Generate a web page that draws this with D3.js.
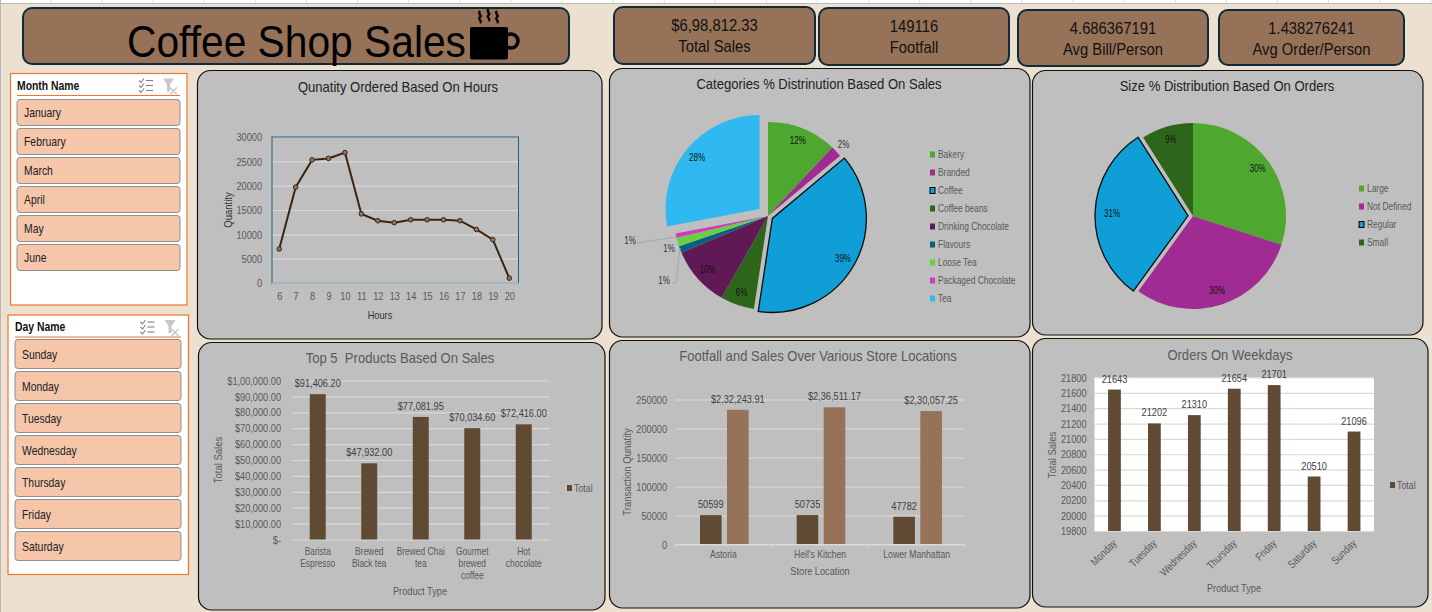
<!DOCTYPE html>
<html>
<head>
<meta charset="utf-8">
<script src="https://cdn.jsdelivr.net/npm/d3@7"></script>
<style>
  html, body { margin: 0; padding: 0; background: #ece1d1; }
  svg { display: block; font-family: "Liberation Sans", sans-serif; }
  .axis path, .axis line { fill: none; }
  .axis text { fill: #595959; }
</style>
</head>
<body>
<svg id="board" width="1432" height="612"></svg>
<script>
// data
var months = ["January", "February", "March", "April", "May", "June"];
var days = ["Sunday", "Monday", "Tuesday", "Wednesday", "Thursday", "Friday", "Saturday"];

var kpiValues = ["$6,98,812.33", "149116", "4.686367191", "1.438276241"];
var kpiNames = ["Total Sales", "Footfall", "Avg Bill/Person", "Avg Order/Person"];

var hours = [6, 7, 8, 9, 10, 11, 12, 13, 14, 15, 16, 17, 18, 19, 20];
var hourQty = [7000, 19700, 25300, 25600, 26800, 14200, 12800, 12400, 13000, 13000, 13000, 12800, 11000, 8900, 1000];

var categories = ["Bakery", "Branded", "Coffee", "Coffee beans", "Drinking Chocolate", "Flavours", "Loose Tea", "Packaged Chocolate", "Tea"];
var categoryShare = [12, 1.9, 38.5, 5.8, 10.4, 1.2, 1.5, 0.7, 28];
var categoryLabels = ["12%", "2%", "39%", "6%", "10%", "1%", "1%", "1%", "28%"];

var sizes = ["Large", "Not Defined", "Regular", "Small"];
var sizeShare = [30, 30, 31, 9];
var sizeLabels = ["30%", "30%", "31%", "9%"];

var products = ["Barista Espresso", "Brewed Black tea", "Brewed Chai tea", "Gourmet brewed coffee", "Hot chocolate"];
var productLines = [["Barista", "Espresso"], ["Brewed", "Black tea"], ["Brewed Chai", "tea"], ["Gourmet", "brewed", "coffee"], ["Hot", "chocolate"]];
var productSales = [91406.20, 47932.00, 77081.95, 70034.60, 72416.00];

var stores = ["Astoria", "Hell's Kitchen", "Lower Manhattan"];
var storeFootfall = [50599, 50735, 47782];
var storeSales = [232243.91, 236511.17, 230057.25];

var weekdays = ["Monday", "Tuesday", "Wednesday", "Thursday", "Friday", "Saturday", "Sunday"];
var weekdayOrders = [21643, 21202, 21310, 21654, 21701, 20510, 21096];

var tan = "#967259", darkBrown = "#604a33", navy = "#0e2a3b", panelGrey = "#bfbfbf", gridGrey = "#d9d9d9";
var orange = "#ee7430", peach = "#f5c6aa", textGrey = "#595959";
var categoryColors = ["#4ea72e", "#a02b93", "#0f9ed5", "#2d651b", "#5f1a56", "#0b5f83", "#6bcf45", "#d338c0", "#2fb9f0"];
var sizeColors = ["#4ea72e", "#a02b93", "#0f9ed5", "#2d651b"];

var svg = d3.select("#board");
var fmtDollar = function(v) {
  // indian style grouping, that is how the sheet shows it
  var parts = v.toFixed(2).split(".");
  var s = parts[0];
  if (s.length > 5) s = s.slice(0, s.length - 5) + "," + s.slice(s.length - 5, s.length - 3) + "," + s.slice(s.length - 3);
  else if (s.length > 3) s = s.slice(0, s.length - 3) + "," + s.slice(s.length - 3);
  return "$" + s + "." + parts[1];
};

function label(g, x, y, txt, size, color, anchor) {
  return g.append("text").attr("x", x).attr("y", y)
    .attr("font-size", size).attr("fill", color || "#000")
    .attr("text-anchor", anchor || "middle").text(txt);
}

function box(x0, y0, x1, y1, fill, stroke, sw, r) {
  return svg.append("rect").attr("x", x0).attr("y", y0)
    .attr("width", x1 - x0).attr("height", y1 - y0).attr("rx", r)
    .attr("fill", fill).attr("stroke", stroke).attr("stroke-width", sw);
}

function panelTitle(x, y, txt, color) {
  return label(svg, x, y, txt, 15, color).attr("data-squeeze", .87).style("white-space", "pre");
}

// sheet grid strip at the top
svg.append("rect").attr("width", 1432).attr("height", 3.5).attr("fill", "#fff");
svg.append("line").attr("x1", 0).attr("x2", 1432).attr("y1", 3.5).attr("y2", 3.5).attr("stroke", "#b8b8b8");
svg.append("line").attr("x1", 0.5).attr("x2", 0.5).attr("y1", 0).attr("y2", 612).attr("stroke", "#b8b8b8");
svg.selectAll("line.cell").data(d3.range(51, 1432, 51.1)).enter().append("line")
  .attr("x1", function(d) { return d; }).attr("x2", function(d) { return d; })
  .attr("y1", 0).attr("y2", 3).attr("stroke", "#ddd");

// title banner
box(23, 8, 569, 64, tan, navy, 2, 9);
label(svg, 127, 57, "Coffee Shop Sales", 44, "#000", "start").attr("data-width", 339);
var cup = svg.append("g");
cup.append("rect").attr("x", 470).attr("y", 27).attr("width", 38).attr("height", 32.5).attr("rx", 2).attr("fill", "#000");
cup.append("circle").attr("cx", 511).attr("cy", 41).attr("r", 7).attr("fill", "none").attr("stroke", "#000").attr("stroke-width", 3.5);
[480, 488.5, 497].forEach(function(x, i) {
  var t = i == 1 ? 9 : 11;
  cup.append("path").attr("d", "M" + x + " " + t + "c-3 3 3 5 0 6c-3 3 3 3 0 6")
    .attr("fill", "none").attr("stroke", "#000").attr("stroke-width", 2.3);
});

// kpi cards
var kpiBoxes = [[614, 7, 815, 64], [819, 8, 1009, 65], [1018, 10, 1208, 66], [1219, 10, 1404, 65]];
kpiBoxes.forEach(function(b, i) {
  box(b[0], b[1], b[2], b[3], tan, navy, 2, 9);
  var mid = (b[0] + b[2]) / 2;
  label(svg, mid, b[1] + 24, kpiValues[i], 17, "#111").attr("data-squeeze", .87);
  label(svg, mid, b[1] + 45, kpiNames[i], 17, "#111").attr("data-squeeze", .87);
});

// slicers
function slicer(name, items, x0, y0, x1, y1, bx0, bx1, bTop, bH, bStep) {
  svg.append("rect").attr("x", x0).attr("y", y0).attr("width", x1 - x0).attr("height", y1 - y0)
    .attr("fill", "#fff").attr("stroke", orange).attr("stroke-width", 1.2);
  label(svg, bx0, y0 + 16, name, 13, "#111", "start").attr("font-weight", "bold");
  svg.append("line").attr("x1", bx0).attr("x2", bx1).attr("y1", y0 + 22).attr("y2", y0 + 22).attr("stroke", orange).attr("stroke-width", 1.2);
  var ix = x1 - 48, iy = y0 + 5;
  var icon = svg.append("g").attr("stroke", "#7f7f7f").attr("fill", "none").attr("stroke-width", 1.1);
  [2, 7, 12].forEach(function(d) {
    icon.append("path").attr("d", "M" + ix + " " + (iy + d) + "l2 2l3 -4");
    icon.append("line").attr("x1", ix + 7).attr("x2", ix + 14).attr("y1", iy + d).attr("y2", iy + d);
  });
  var fx = x1 - 24;
  svg.append("path").attr("d", "M" + fx + " " + iy + "h11l-4 6v7h-3v-7z").attr("fill", "#c8c8c8");
  svg.append("path").attr("d", "M" + (fx + 7) + " " + (iy + 9) + "l7 7m0 -7l-7 7").attr("stroke", "#c8c8c8").attr("stroke-width", 1.5);
  items.forEach(function(t, i) {
    var y = bTop + i * bStep;
    box(bx0, y, bx1, y + bH, peach, "#8f8f8f", 1, 3);
    label(svg, bx0 + 7, y + bH / 2 + 4.5, t, 13, "#222", "start");
  });
}
slicer("Month Name", months, 10.5, 73.5, 187, 305, 17, 180, 99.5, 26, 29);
slicer("Day Name", days, 8, 315, 188.5, 574.5, 15, 181, 339.5, 29, 32);

// chart panels
var panels = [[197, 70, 602, 339], [609, 68, 1030, 337], [1032, 70, 1423, 335], [198, 342, 605, 610], [609, 340, 1030, 608], [1032, 338, 1428, 607]];
panels.forEach(function(p) { box(p[0] + .5, p[1] + .5, p[2], p[3], panelGrey, "#111", 1.2, 13); });

function axisTitle(x, y, txt, rotated) {
  var t = svg.append("text").attr("text-anchor", "middle").attr("font-size", rotated ? 10 : 11.5).attr("fill", textGrey).text(txt);
  if (rotated) t.attr("transform", "translate(" + x + "," + y + ") rotate(-90)").attr("data-squeeze", .95);
  else t.attr("x", x).attr("y", y);
  return t;
}

function styleYAxis(g, color, tickLen, gap) {
  g.select(".domain").remove();
  g.selectAll("line").attr("stroke", gridGrey).attr("stroke-width", 1.2).attr("x1", 0).attr("x2", tickLen);
  g.selectAll("text").attr("font-size", 11.5).attr("fill", color).attr("x", -gap);
}

function legendTotal(x, y) {
  svg.append("rect").attr("x", x).attr("y", y - 4).attr("width", 5).attr("height", 6).attr("fill", darkBrown);
  label(svg, x + 7, y + 3, "Total", 11, textGrey, "start");
}

// --- quantity by hour
(function() {
  panelTitle(398, 92, "Qunatity Ordered Based On Hours", "#222");
  var x = d3.scalePoint().domain(hours).range([271, 517.5]).padding(.5);
  var y = d3.scaleLinear().domain([0, 30000]).range([283, 137]);
  var g = svg.append("g").attr("class", "axis").attr("transform", "translate(272,0)")
    .call(d3.axisLeft(y).ticks(6).tickFormat(d3.format("d")));
  styleYAxis(g, "#333", 246.5, 10);
  svg.append("rect").attr("x", 272).attr("y", 137).attr("width", 246.5).attr("height", 146)
    .attr("fill", "none").attr("stroke", "#156082").attr("stroke-width", 1);
  svg.append("line").attr("x1", 272).attr("x2", 518.5).attr("y1", 283).attr("y2", 283).attr("stroke", gridGrey).attr("stroke-width", 1.2);
  var xg = svg.append("g").attr("class", "axis").attr("transform", "translate(0,283)")
    .call(d3.axisBottom(x).tickSize(0).tickPadding(9));
  xg.select(".domain").remove();
  xg.selectAll("text").attr("font-size", 11.5).attr("fill", "#333");
  var line = d3.line().x(function(d, i) { return x(hours[i]); }).y(function(d) { return y(d); });
  svg.append("path").datum(hourQty).attr("d", line).attr("fill", "none").attr("stroke", "#3a2412").attr("stroke-width", 2);
  svg.selectAll("circle.hr").data(hourQty).enter().append("circle")
    .attr("cx", function(d, i) { return x(hours[i]); }).attr("cy", function(d) { return y(d); })
    .attr("r", 2.3).attr("fill", tan).attr("stroke", "#3a2412").attr("stroke-width", 1);
  axisTitle(232, 210, "Quantity", true).attr("fill", "#333");
  axisTitle(380, 319, "Hours").attr("fill", "#333");
})();

// --- pies
function pieChart(opts) {
  var pie = d3.pie().sort(null).value(function(d) { return d; });
  var arcs = pie(opts.values);
  var arc = d3.arc().innerRadius(0).outerRadius(opts.radius);
  var g = svg.append("g").attr("transform", "translate(" + opts.cx + "," + opts.cy + ")");
  arcs.forEach(function(a, i) {
    var mid = (a.startAngle + a.endAngle) / 2, ex = opts.explode[i] || 0;
    var ox = Math.sin(mid) * ex, oy = -Math.cos(mid) * ex;
    a.ox = ox; a.oy = oy; a.mid = mid;
    g.append("path").attr("d", arc(a)).attr("transform", "translate(" + ox + "," + oy + ")")
      .attr("fill", opts.colors[i])
      .attr("stroke", opts.outlined == i ? "#0b0b0b" : "none").attr("stroke-width", 1.3);
  });
  arcs.forEach(function(a, i) {
    var r = opts.labelRadius[i] || 81, off = opts.labelOffset[i];
    var lx = Math.sin(a.mid) * r + a.ox, ly = -Math.cos(a.mid) * r + a.oy;
    if (off) { lx = off[0]; ly = off[1]; }
    label(g, lx, ly + 3.5, opts.labels[i], 10, off || r > 95 ? "#333" : "#111");
  });
  // leader lines for the small slices
  (opts.leaders || []).forEach(function(pts) {
    g.append("path").attr("d", d3.line()(pts)).attr("fill", "none").attr("stroke", "#a8a8a8").attr("stroke-width", 1);
  });
  opts.names.forEach(function(n, i) {
    var y = opts.legendTop + i * opts.legendStep;
    svg.append("rect").attr("x", opts.legendX).attr("y", y - 2.5).attr("width", 5).attr("height", 6)
      .attr("fill", opts.colors[i]).attr("stroke", opts.outlined == i ? "#000" : "none");
    label(svg, opts.legendX + 8, y + 4, n, 10.5, textGrey, "start");
  });
}

panelTitle(819, 89, "Categories % Distrinution Based On Sales", "#222");
pieChart({
  cx: 768, cy: 216, radius: 94, values: categoryShare, labels: categoryLabels, names: categories,
  colors: categoryColors, explode: { 2: 5, 8: 11 }, outlined: 2,
  labelRadius: { 1: 104 },
  labelOffset: { 5: [-104, 64], 6: [-99, 32], 7: [-138, 24] },
  leaders: [[[-92, 21], [-131, 27], [-127, 27]], [[-88, 32], [-92, 67], [-96, 67]]],
  legendX: 930, legendTop: 154, legendStep: 18
});

panelTitle(1227, 91, "Size % Distribution Based On Orders", "#222");
pieChart({
  cx: 1193, cy: 216, radius: 93, values: sizeShare, labels: sizeLabels, names: sizes,
  colors: sizeColors, explode: { 2: 5 }, outlined: 2,
  labelRadius: { 0: 80, 1: 78, 2: 76, 3: 80 },
  labelOffset: {},
  legendX: 1359, legendTop: 188, legendStep: 18
});

// --- top 5 products
(function() {
  panelTitle(400, 363, "Top 5  Products Based On Sales", textGrey);
  var x = d3.scaleBand().domain(products).range([292, 549.5]).paddingInner(.69).paddingOuter(.345);
  var y = d3.scaleLinear().domain([0, 100000]).range([539.5, 380.5]);
  var g = svg.append("g").attr("class", "axis").attr("transform", "translate(292,0)")
    .call(d3.axisLeft(y).ticks(10).tickFormat(function(d) { return d == 0 ? "$-" : fmtDollar(d); }));
  styleYAxis(g, textGrey, 257.5, 11);
  svg.selectAll("rect.pbar").data(productSales).enter().append("rect")
    .attr("x", function(d, i) { return x(products[i]); }).attr("width", x.bandwidth())
    .attr("y", function(d) { return y(d); }).attr("height", function(d) { return y(0) - y(d); })
    .attr("fill", darkBrown);
  svg.selectAll("text.pval").data(productSales).enter().append("text")
    .attr("x", function(d, i) { return x(products[i]) + x.bandwidth() / 2; })
    .attr("y", function(d) { return y(d) - 7; })
    .attr("text-anchor", "middle").attr("font-size", 11.5).attr("fill", "#404040").text(fmtDollar);
  productLines.forEach(function(lines, i) {
    lines.forEach(function(t, j) {
      label(svg, x(products[i]) + x.bandwidth() / 2, 555 + j * 12, t, 10.5, textGrey);
    });
  });
  axisTitle(222, 460, "Total Sales", true);
  axisTitle(420, 595, "Product Type");
  legendTotal(567, 489);
})();

// --- footfall and sales by store
(function() {
  panelTitle(818, 361, "Footfall and Sales Over Various Store Locations", textGrey);
  var x = d3.scaleBand().domain(stores).range([675, 965]);
  var y = d3.scaleLinear().domain([0, 250000]).range([544.5, 399.5]);
  var g = svg.append("g").attr("class", "axis").attr("transform", "translate(675,0)")
    .call(d3.axisLeft(y).ticks(5).tickFormat(d3.format("d")));
  styleYAxis(g, textGrey, 290, 8);
  var inner = d3.scaleBand().domain(["footfall", "sales"]).range([25, 73.6]).paddingInner(.2);
  var seriesColor = { footfall: darkBrown, sales: tan };
  [["footfall", storeFootfall, d3.format("d")], ["sales", storeSales, fmtDollar]].forEach(function(s) {
    svg.selectAll("rect." + s[0]).data(s[1]).enter().append("rect")
      .attr("x", function(d, i) { return x(stores[i]) + inner(s[0]); }).attr("width", inner.bandwidth())
      .attr("y", function(d) { return y(d); }).attr("height", function(d) { return y(0) - y(d); })
      .attr("fill", seriesColor[s[0]]);
    svg.selectAll("text." + s[0]).data(s[1]).enter().append("text")
      .attr("x", function(d, i) { return x(stores[i]) + inner(s[0]) + inner.bandwidth() / 2; })
      .attr("y", function(d) { return y(d) - 7; })
      .attr("text-anchor", "middle").attr("font-size", 11.5).attr("fill", "#404040").text(s[2]);
  });
  var xg = svg.append("g").attr("class", "axis").attr("transform", "translate(0,544.5)")
    .call(d3.axisBottom(x).tickSize(0).tickPadding(6));
  xg.select(".domain").attr("stroke", gridGrey).attr("d", "M675,0H965");
  xg.selectAll("text").attr("font-size", 10.8).attr("fill", textGrey);
  svg.selectAll("line.sep").data(stores.concat(["end"])).enter().append("line")
    .attr("x1", function(d, i) { return 675 + i * x.bandwidth(); }).attr("x2", function(d, i) { return 675 + i * x.bandwidth(); })
    .attr("y1", 544.5).attr("y2", 548).attr("stroke", gridGrey);
  axisTitle(631, 472, "Transaction Qunatity", true);
  axisTitle(820, 575, "Store Location");
})();

// --- orders on weekdays
(function() {
  panelTitle(1230, 360, "Orders On Weekdays", textGrey);
  var x = d3.scaleBand().domain(weekdays).range([1094.5, 1374]).paddingInner(.68).paddingOuter(.34);
  var y = d3.scaleLinear().domain([19800, 21800]).range([531, 377.5]);
  svg.append("rect").attr("x", 1094.5).attr("y", 377.5).attr("width", 279.5).attr("height", 153.5).attr("fill", "#fff");
  var g = svg.append("g").attr("class", "axis").attr("transform", "translate(1094.5,0)")
    .call(d3.axisLeft(y).ticks(10).tickFormat(d3.format("d")));
  styleYAxis(g, "#404040", 279.5, 8);
  svg.selectAll("rect.wbar").data(weekdayOrders).enter().append("rect")
    .attr("x", function(d, i) { return x(weekdays[i]); }).attr("width", x.bandwidth())
    .attr("y", function(d) { return y(d); }).attr("height", function(d) { return y(19800) - y(d); })
    .attr("fill", darkBrown);
  svg.selectAll("text.wval").data(weekdayOrders).enter().append("text")
    .attr("x", function(d, i) { return x(weekdays[i]) + x.bandwidth() / 2; })
    .attr("y", function(d) { return y(d) - 7; })
    .attr("text-anchor", "middle").attr("font-size", 11.5).attr("fill", "#404040").text(function(d) { return d; });
  weekdays.forEach(function(d) {
    var cx = x(d) + x.bandwidth() / 2;
    svg.append("text").attr("text-anchor", "end").attr("font-size", 11).attr("fill", textGrey)
      .attr("transform", "translate(" + (cx + 3) + ",544) rotate(-45)").text(d);
  });
  axisTitle(1056, 455, "Total Sales", true);
  axisTitle(1234, 592, "Product Type");
  legendTotal(1390, 486);
})();

// the sheet uses a narrow font, squeeze every text to that width
svg.selectAll("text").each(function() {
  var w = +this.getAttribute("data-width");
  var f = +this.getAttribute("data-squeeze") || .8;
  this.setAttribute("textLength", w || this.getComputedTextLength() * f);
  this.setAttribute("lengthAdjust", "spacingAndGlyphs");
});
</script>
</body>
</html>
